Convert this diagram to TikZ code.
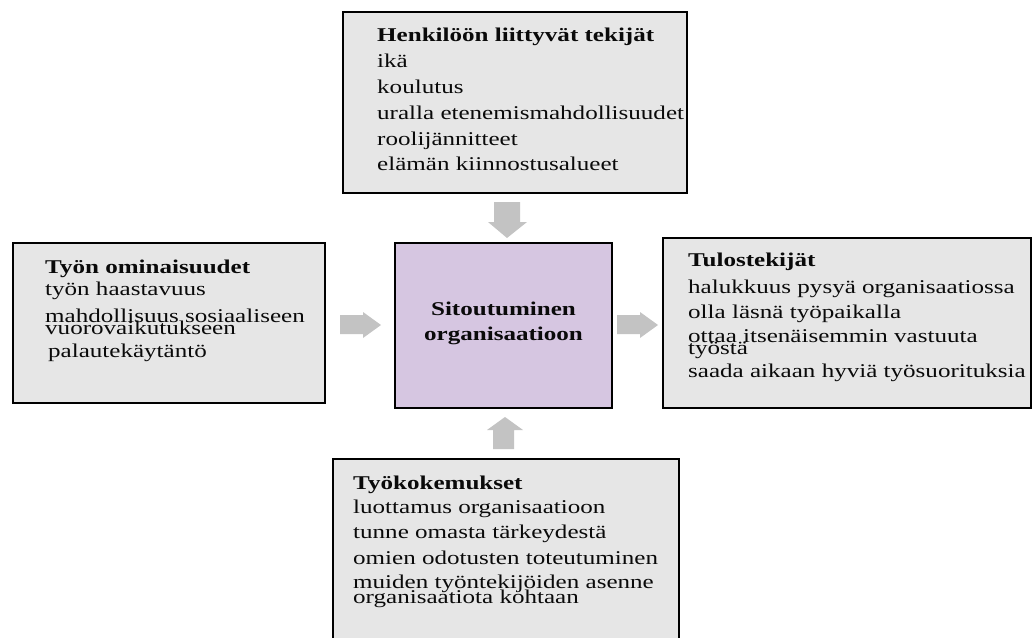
\documentclass[tikz,border=0pt]{standalone}
\usepackage{fontspec}
\setmainfont{Liberation Serif}[FakeStretch=1.285]
\definecolor{boxgray}{HTML}{E6E6E6}
\definecolor{corepurple}{HTML}{D6C6E1}
\definecolor{arrowgray}{HTML}{C3C3C3}
\definecolor{inkblack}{HTML}{0A0A0A}
\tikzset{
  factorbox/.style={draw=black, line width=2.8pt, fill=boxgray},
  corebox/.style={draw=black, line width=2.8pt, fill=corepurple},
  % multi-line texts are placed by the baseline of their last line
  boxtext/.style={inner sep=0pt, anchor=base west, align=left, text=inkblack,
    font=\fontsize{19.5}{25.5}\selectfont},
  coretext/.style={inner sep=0pt, anchor=base, align=center, text=inkblack,
    font=\fontsize{19.5}{25}\selectfont\bfseries},
  blockarrow/.style={fill=arrowgray, draw=none}
}
\begin{document}
\begin{tikzpicture}[x=1pt,y=-1pt]
\useasboundingbox (0,0) rectangle (1033,637);
\fill[white] (0,0) rectangle (1033,637);

% boxes
\draw[factorbox] (343,12) rectangle (687,193);
\draw[factorbox] (13,243) rectangle (325,403);
\draw[factorbox] (663,238) rectangle (1031,408);
\draw[factorbox] (333,459) rectangle (679,660);
\draw[corebox] (395,243) rectangle (612,408);

% texts
\node[boxtext] (person) at (377,170) {\textbf{Henkilöön liittyvät tekijät}\\[0.5pt]
ikä\\[0.5pt]
koulutus\\[0pt]
uralla etenemismahdollisuudet\\[1pt]
roolijännitteet\\[-1pt]
elämän kiinnostusalueet};

\node[boxtext] (job) at (45,357) {\textbf{Työn ominaisuudet}\\[-3.5pt]
työn haastavuus\\[1.5pt]
mahdollisuus sosiaaliseen\\[-13.5pt]
vuorovaikutukseen\\[-2.5pt]
\hspace{3pt}palautekäytäntö};

\node[boxtext] (outcome) at (688,377) {\textbf{Tulostekijät}\\[1.5pt]
halukkuus pysyä organisaatiossa\\[-0.5pt]
olla läsnä työpaikalla\\[-1.5pt]
ottaa itsenäisemmin vastuuta\\[-13.5pt]
työstä\\[-2.5pt]
saada aikaan hyviä työsuorituksia};

\node[boxtext] (experience) at (353,603) {\textbf{Työkokemukset}\\[-1.5pt]
luottamus organisaatioon\\[-0.5pt]
tunne omasta tärkeydestä\\[0.5pt]
omien odotusten toteutuminen\\[-1.5pt]
muiden työntekijöiden asenne\\[-10.5pt]
organisaatiota kohtaan};

\node[coretext] (core) at (503.5,340) {Sitoutuminen\\[0pt]organisaatioon};

% block arrows towards the centre
\fill[blockarrow] (494,202) -- (520,202) -- (520,222) -- (527,222) -- (507,238)
  -- (488,222) -- (494,222) -- cycle;
\fill[blockarrow] (340,315) -- (363,315) -- (363,312) -- (381,325) -- (363,338)
  -- (363,334) -- (340,334) -- cycle;
\fill[blockarrow] (617,315) -- (640,315) -- (640,312) -- (658,325) -- (640,338)
  -- (640,334) -- (617,334) -- cycle;
\fill[blockarrow] (493,449) -- (514,449) -- (514,430) -- (523,430) -- (505,417)
  -- (487,430) -- (493,430) -- cycle;
\end{tikzpicture}
\end{document}
